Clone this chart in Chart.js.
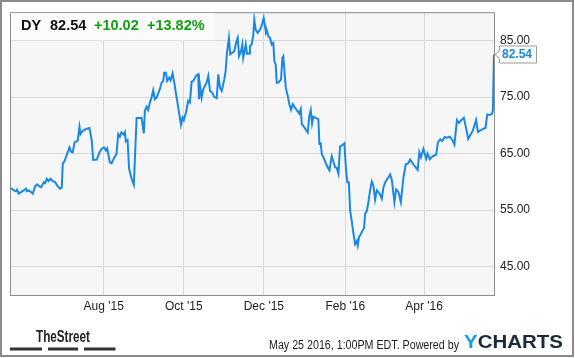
<!DOCTYPE html>
<html><head><meta charset="utf-8">
<script src="https://cdn.jsdelivr.net/npm/chart.js@4"></script>
<style>html,body{margin:0;padding:0;background:#fff;overflow:hidden}canvas{display:block}</style>
</head><body><canvas id="c" width="575" height="358"></canvas>
<script>
// x = days since 2015-08-01
const days = [
-70.5,-68.5,-66.7,-65.9,-64.6,-62.9,-60.8,-59.1,-58.3,-57.0,-55.3,-54.0,
-52.2,-50.7,-48.9,-47.6,-45.6,-44.6,-43.3,-42.0,-40.5,-38.7,-37.0,-34.9,-33.2,-31.9,
-31.1,-29.8,-27.8,-26.0,-24.8,-23.5,-22.2,-19.7,-18.4,-17.6,-15.9,-13.3,-10.8,-9.0,
-8.0,-5.2,-3.1,-1.6,0.2,1.7,2.7,
4.7,6.0,8.0,9.8,11.1,12.4,13.6,15.4,16.2,16.9,18.2,19.4,21.3,23.0,
25.1,28.9,30.6,31.4,32.7,33.9,35.2,36.5,37.7,39.0,40.3,
42.8,44.1,45.4,46.1,47.4,48.4,49.9,51.0,52.5,53.5,
55.6,57.6,58.9,60.1,61.1,62.7,64.4,65.7,67.0,68.2,70.3,72.0,
72.6,73.6,74.6,75.8,77.1,78.4,79.7,81.0,82.7,84.2,86.1,
87.3,88.6,89.9,91.9,92.9,93.9,95.4,96.4,98.0,99.5,100.8,102.1,
103.1,104.6,105.6,106.3,107.6,108.2,109.2,110.7,111.4,112.7,
114.0,114.7,115.8,117.3,119.1,120.4,121.9,122.9,123.6,124.4,125.4,126.7,128.0,129.2,
130.0,131.0,131.8,133.0,135.1,136.1,136.8,137.6,138.7,140.2,141.4,142.7,
144.0,145.7,147.5,149.0,150.1,150.9,152.6,154.1,155.4,156.6,157.7,158.7,159.7,161.8,163.5,
164.3,165.3,166.1,167.9,169.9,171.9,173.7,174.9,176.2,177.5,178.8,180.0,181.8,183.3,184.6,185.6,186.7,
187.7,189.0,190.2,191.5,192.8,193.5,194.5,195.8,197.0,198.3,199.1,200.4,201.6,202.9,204.2,205.4,
206.7,208.0,209.2,210.5,211.8,213.1,214.4,216.1,218.2,219.5,221.4,222.7,224.5,226.3,
228.3,230.0,232.1,233.4,235.9,239.1,240.4,241.6,243.5,245.6,246.7,248.4,250.2,253.2,
254.5,256.3,257.8,259.7,261.2,263.5,265.4,267.1,269.0,270.5,272.8,274.3,
276.1,277.6,279.5,281.2,283.6,285.0,288.1,290.8,292.1,293.6,295.5,296.4,297.2
];
const prices = [
58.90,58.49,58.32,58.61,57.91,58.19,58.49,58.79,58.32,58.49,58.19,57.91,
59.20,59.55,59.20,59.07,59.95,59.78,60.55,60.13,60.55,60.13,59.95,59.20,58.79,58.97,
63.29,63.65,64.95,66.11,65.35,65.23,66.99,67.29,69.75,68.47,69.05,69.34,69.52,67.29,
63.89,63.94,65.23,65.83,66.11,65.53,65.93,
63.47,63.29,64.24,64.95,68.47,67.99,68.75,68.34,68.75,67.16,67.41,62.31,60.55,59.49,
71.28,71.28,68.57,72.56,73.27,72.69,74.02,74.90,76.20,74.62,74.90,
76.38,77.54,77.84,79.30,79.30,77.84,78.42,77.96,79.20,77.96,
74.90,71.98,70.10,71.39,70.93,72.26,74.32,74.02,77.72,77.84,78.72,79.02,
74.62,76.66,74.90,76.38,76.96,77.54,78.72,76.08,75.78,75.03,74.80,
79.02,76.66,76.08,78.14,79.60,82.82,85.46,82.54,82.82,83.12,84.58,85.46,
82.24,83.12,84.30,81.94,83.42,84.30,82.64,82.71,84.00,84.30,
86.06,88.69,86.93,86.34,86.93,87.69,88.98,87.52,86.34,86.64,85.76,85.46,84.30,84.58,
81.36,80.78,77.54,77.54,78.14,81.94,82.24,79.90,76.66,75.20,73.74,72.74,
73.74,73.14,72.56,72.09,72.86,70.22,69.75,69.17,68.75,71.68,72.69,70.33,71.51,71.28,71.10,
66.71,66.81,64.95,64.07,62.89,62.01,64.53,63.65,62.59,62.48,61.43,66.23,66.53,66.81,62.01,59.95,59.95,
54.97,52.92,50.88,48.99,49.57,48.76,50.28,50.75,51.33,51.81,54.39,54.85,56.43,58.49,60.07,59.37,
56.86,58.49,58.19,57.79,57.03,59.07,59.90,60.55,61.31,60.25,56.43,58.67,58.19,56.43,
60.78,63.07,63.33,63.94,63.07,62.13,65.23,64.35,65.83,64.07,65.00,63.98,64.47,64.82,
66.99,67.50,67.23,67.94,67.81,67.99,67.46,66.58,70.93,70.42,71.02,71.33,
69.34,67.59,68.39,69.10,70.93,68.83,69.26,69.57,71.91,71.83,71.98,72.56,82.54
];
const xTickDays = [0, 61, 122, 184, 244];
const xTickLabels = ["Aug '15", "Oct '15", "Dec '15", "Feb '16", "Apr '16"];
const yTicks = [45, 55, 65, 75, 85];
const ticker = "DY";
const lastPrice = "82.54";
const change = "+10.02";
const changePct = "+13.82%";
const footerText = "May 25 2016, 1:00PM EDT. Powered by";

const FONT = "'Liberation Sans', Arial, sans-serif";
Chart.defaults.font.family = FONT;

function fitText(ctx, text, x, y, width) {
  const w = ctx.measureText(text).width;
  ctx.save(); ctx.translate(x, y); ctx.scale(width / w, 1);
  ctx.fillText(text, 0, 0); ctx.restore();
}

const decor = {
  id: 'decor',
  beforeDraw(chart) {
    const {ctx, chartArea: a} = chart;
    ctx.save();
    ctx.fillStyle = '#fff'; ctx.fillRect(0, 0, chart.width, chart.height);
    ctx.fillStyle = '#f6f6f6'; ctx.fillRect(a.left, a.top, a.right - a.left, a.bottom - a.top);
    ctx.restore();
  },
  afterDraw(chart) {
    const {ctx, chartArea: a} = chart;
    const ys = chart.scales.y;
    ctx.save();
    // plot frame
    ctx.strokeStyle = '#8c8c8c'; ctx.lineWidth = 1;
    ctx.strokeRect(a.left + 0.5, a.top + 0.5, a.right - a.left - 1, a.bottom - a.top);
    // outer border
    ctx.strokeStyle = '#8a8a8a'; ctx.lineWidth = 2;
    ctx.strokeRect(1, 1, 572, 355);
    // header box
    ctx.fillStyle = '#fbfbfb';
    ctx.fillRect(a.left + 1, a.top + 1, 204, 27);
    ctx.font = 'bold 14.5px ' + FONT;
    ctx.textBaseline = 'alphabetic'; ctx.textAlign = 'left';
    ctx.fillStyle = '#111';
    ctx.fillText(ticker, 21, 29.5);
    ctx.fillText(lastPrice, 50, 29.5);
    ctx.fillStyle = '#13a013';
    ctx.fillText(change, 94, 29.5);
    ctx.fillText(changePct, 147, 29.5);
    // last value tag
    const yv = Math.round(ys.getPixelForValue(prices[prices.length - 1])) + 0.5;
    ctx.beginPath();
    ctx.moveTo(499.5, yv - 8.5);
    ctx.lineTo(536.5, yv - 8.5);
    ctx.lineTo(536.5, yv + 8.5);
    ctx.lineTo(499.5, yv + 8.5);
    ctx.lineTo(499.5, yv + 4);
    ctx.lineTo(495, yv);
    ctx.lineTo(499.5, yv - 4);
    ctx.closePath();
    ctx.fillStyle = '#fff'; ctx.fill();
    ctx.strokeStyle = '#999'; ctx.lineWidth = 1; ctx.stroke();
    ctx.fillStyle = '#1a88e3';
    ctx.font = 'bold 12px ' + FONT;
    ctx.textBaseline = 'middle';
    ctx.fillText(prices[prices.length - 1].toFixed(2), 502, yv + 0.5);
    // footer: TheStreet
    ctx.textBaseline = 'alphabetic';
    ctx.fillStyle = '#222';
    ctx.font = "bold 16px 'Liberation Sans Narrow', 'Liberation Sans', Arial, sans-serif";
    fitText(ctx, 'TheStreet', 36, 341.5, 54);
    ctx.fillStyle = '#333';
    ctx.fillRect(10, 347.5, 32, 3);
    ctx.fillRect(48, 347.5, 30, 3);
    ctx.fillRect(84, 347.5, 31.5, 3);
    // footer text
    ctx.fillStyle = '#222';
    ctx.font = '12px ' + FONT;
    fitText(ctx, footerText, 269, 349, 190);
    // YCHARTS logo
    ctx.font = 'bold 18.5px ' + FONT;
    const wY = ctx.measureText('Y').width, wC = ctx.measureText('CHARTS').width;
    const sc = 99 / (wY + wC);
    ctx.save(); ctx.translate(464, 348.3); ctx.scale(sc, 1);
    ctx.fillStyle = '#1a9be6'; ctx.fillText('Y', 0, 0);
    ctx.fillStyle = '#1b2a3b'; ctx.fillText('CHARTS', wY, 0);
    ctx.restore();
    ctx.restore();
  }
};

new Chart(document.getElementById('c'), {
  type: 'line',
  data: {
    datasets: [{
      data: days.map((d, i) => ({x: d, y: prices[i]})),
      borderColor: '#1a88e3',
      borderWidth: 2,
      pointRadius: 0,
      tension: 0,
      fill: false
    }]
  },
  options: {
    responsive: false,
    animation: false,
    devicePixelRatio: 1,
    layout: {padding: {left: 10, top: 10, right: 0, bottom: 0}},
    plugins: {legend: {display: false}, tooltip: {enabled: false}},
    scales: {
      x: {
        type: 'linear', min: -71.3, max: 298,
        afterBuildTicks: s => { s.ticks = xTickDays.map(v => ({value: v})); },
        afterFit: s => { s.height = 63; },
        grid: {color: '#d9d9d9', drawTicks: false},
        border: {display: false},
        ticks: {
          autoSkip: false, maxRotation: 0, padding: 4,
          color: '#222', font: {size: 12},
          callback: (v, i) => xTickLabels[i]
        }
      },
      y: {
        position: 'right', min: 40, max: 90,
        afterBuildTicks: s => { s.ticks = yTicks.map(v => ({value: v})); },
        afterFit: s => { s.width = 80; },
        grid: {color: '#d9d9d9', drawTicks: false},
        border: {display: false},
        ticks: {
          padding: 5, color: '#222', font: {size: 12},
          callback: v => Number(v).toFixed(2)
        }
      }
    }
  },
  plugins: [decor]
});
</script>
</body></html>
